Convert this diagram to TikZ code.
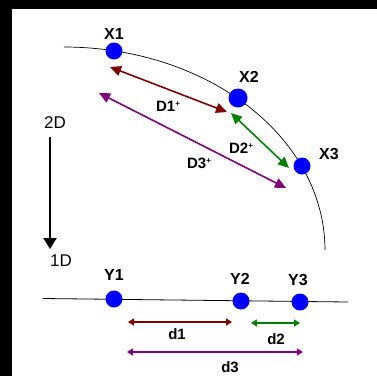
\documentclass[tikz,border=0pt]{standalone}
\usepackage{fontspec}
\setmainfont{Liberation Sans}
\usetikzlibrary{arrows.meta}
\definecolor{dred}{HTML}{800000}
\definecolor{dgreen}{HTML}{008000}
\definecolor{dpurple}{HTML}{800080}
\newcommand{\supplus}{\raisebox{5pt}{\fontsize{8}{8}\selectfont +}}
\tikzset{
  dot/.style={circle,fill=blue,draw=none,minimum size=17pt,inner sep=0pt},
  lbl/.style={font=\fontsize{16}{16}\selectfont\bfseries,inner sep=0pt},
  dimlbl/.style={font=\fontsize{15}{15}\selectfont\bfseries,inner sep=0pt},
  biglbl/.style={font=\fontsize{17}{17}\selectfont,inner sep=0pt},
  bigarrow/.style={line width=1.6pt,{Triangle[length=11pt,width=10pt]}-{Triangle[length=11pt,width=10pt]}},
  smallarrow/.style={line width=1.4pt,{Triangle[length=6pt,width=7pt]}-{Triangle[length=6pt,width=7pt]}},
}
\begin{document}
\begin{tikzpicture}[x=1pt,y=-1pt]
\useasboundingbox (0,0) rectangle (377,376);
\fill[black] (0,0) rectangle (377,376);
\fill[white] (12,9) rectangle (377,376);
% 2D curve
\draw[line width=0.7pt] plot[domain=90:0,samples=80,smooth] ({64+261*cos(\x)},{250-203*sin(\x)});
% 1D line
\coordinate (la) at (43,298.5);
\coordinate (lb) at (348,302);
\draw[line width=0.8pt] (la) -- (lb);
% dots
\node[dot] (x1) at (114,51) {};
\node[dot,minimum height=19pt] (x2) at (238,98) {};
\node[dot] (x3) at (302,166) {};
\node[dot] (y1) at (114,299) {};
\node[dot] (y2) at (241,301) {};
\node[dot] (y3) at (300,302) {};
% labels
\node[lbl] (tx1) at (114,34) {X1};
\node[lbl] (tx2) at (249,77) {X2};
\node[lbl] (tx3) at (329,154) {X3};
\node[lbl] (ty1) at (114,275) {Y1};
\node[lbl] (ty2) at (240,279) {Y2};
\node[lbl] (ty3) at (298,280) {Y3};
\node[dimlbl] (tD1) at (168,106) {D1\supplus};
\node[dimlbl] (tD2) at (241,148) {D2\supplus};
\node[dimlbl] (tD3) at (199,163) {D3\supplus};
\node[dimlbl] (td1) at (177,334) {d1};
\node[dimlbl] (td2) at (276,339) {d2};
\node[dimlbl] (td3) at (230,367) {d3};
\node[biglbl] (t2D) at (55,123) {2D};
\node[biglbl] (t1D) at (61,261) {1D};
% 2D -> 1D arrow
\coordinate (va) at (50,137);
\coordinate (vb) at (50,249);
\draw[line width=2pt,-{Triangle[length=11pt,width=13pt]}] (va) -- (vb);
% upper distance arrows
\coordinate (a1) at (110,67);
\coordinate (b1) at (227,112);
\draw[dred,bigarrow] (a1) -- (b1);
\coordinate (a2) at (231,113);
\coordinate (b2) at (289,168);
\draw[dgreen,bigarrow] (a2) -- (b2);
\coordinate (a3) at (99,93);
\coordinate (b3) at (286,188);
\draw[dpurple,bigarrow] (a3) -- (b3);
% lower distance arrows
\coordinate (c1) at (128,322);
\coordinate (e1) at (232,322);
\draw[dred,smallarrow] (c1) -- (e1);
\coordinate (c2) at (251,323);
\coordinate (e2) at (300,323);
\draw[dgreen,smallarrow] (c2) -- (e2);
\coordinate (c3) at (127,352);
\coordinate (e3) at (303,352);
\draw[dpurple,smallarrow] (c3) -- (e3);
\end{tikzpicture}
\end{document}
